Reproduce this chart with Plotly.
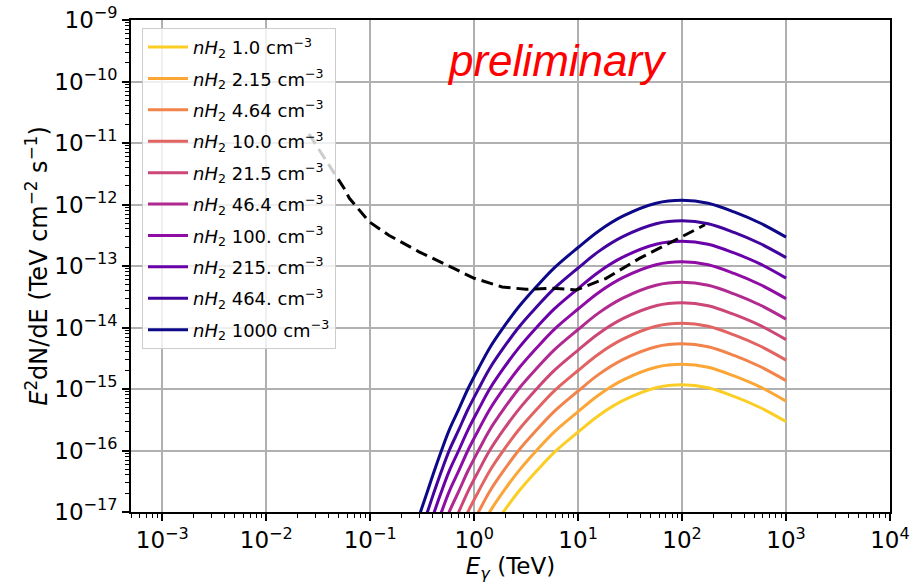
import plotly.graph_objects as go

# ---------------- data ----------------
energy_tev = [0.30, 0.355, 0.41, 0.48, 0.575, 0.71, 0.87, 1.1, 1.41, 1.95, 2.7, 4.0,
              5.9, 10.0, 15.8, 26.9, 56.2, 100.0, 178.0, 316.0, 562.0, 1000.0]

density_labels = ["1.0", "2.15", "4.64", "10.0", "21.5", "46.4", "100.", "215.", "464.", "1000"]

flux_n1 = [9.3e-21, 2.15e-20, 4.47e-20, 9.55e-20, 2.15e-19, 4.65e-19, 1.0e-18, 2.15e-18, 4.65e-18,
           1.05e-17, 2.19e-17, 4.68e-17, 9.33e-17, 2.0e-16, 3.72e-16, 6.46e-16, 1.05e-15, 1.17e-15,
           1.05e-15, 7.59e-16, 5.0e-16, 2.95e-16]
flux_n2 = [2.0e-20, 4.62e-20, 9.61e-20, 2.05e-19, 4.62e-19, 1.0e-18, 2.15e-18, 4.62e-18, 1.0e-17,
           2.26e-17, 4.71e-17, 1.01e-16, 2.01e-16, 4.3e-16, 8.0e-16, 1.39e-15, 2.26e-15, 2.52e-15,
           2.26e-15, 1.63e-15, 1.08e-15, 6.34e-16]
flux_n5 = [4.32e-20, 9.98e-20, 2.07e-19, 4.43e-19, 9.98e-19, 2.16e-18, 4.64e-18, 9.98e-18, 2.16e-17,
           4.87e-17, 1.02e-16, 2.17e-16, 4.33e-16, 9.28e-16, 1.73e-15, 3.0e-15, 4.87e-15, 5.43e-15,
           4.87e-15, 3.52e-15, 2.32e-15, 1.37e-15]
flux_n10 = [9.3e-20, 2.15e-19, 4.47e-19, 9.55e-19, 2.15e-18, 4.65e-18, 1.0e-17, 2.15e-17, 4.65e-17,
            1.05e-16, 2.19e-16, 4.68e-16, 9.33e-16, 2.0e-15, 3.72e-15, 6.46e-15, 1.05e-14, 1.17e-14,
            1.05e-14, 7.59e-15, 5.0e-15, 2.95e-15]
flux_n21 = [2.0e-19, 4.62e-19, 9.61e-19, 2.05e-18, 4.62e-18, 1.0e-17, 2.15e-17, 4.62e-17, 1.0e-16,
            2.26e-16, 4.71e-16, 1.01e-15, 2.01e-15, 4.3e-15, 8.0e-15, 1.39e-14, 2.26e-14, 2.52e-14,
            2.26e-14, 1.63e-14, 1.08e-14, 6.34e-15]
flux_n46 = [4.32e-19, 9.98e-19, 2.07e-18, 4.43e-18, 9.98e-18, 2.16e-17, 4.64e-17, 9.98e-17, 2.16e-16,
            4.87e-16, 1.02e-15, 2.17e-15, 4.33e-15, 9.28e-15, 1.73e-14, 3.0e-14, 4.87e-14, 5.43e-14,
            4.87e-14, 3.52e-14, 2.32e-14, 1.37e-14]
flux_n100 = [9.3e-19, 2.15e-18, 4.47e-18, 9.55e-18, 2.15e-17, 4.65e-17, 1.0e-16, 2.15e-16, 4.65e-16,
             1.05e-15, 2.19e-15, 4.68e-15, 9.33e-15, 2.0e-14, 3.72e-14, 6.46e-14, 1.05e-13, 1.17e-13,
             1.05e-13, 7.59e-14, 5.0e-14, 2.95e-14]
flux_n215 = [2.0e-18, 4.62e-18, 9.61e-18, 2.05e-17, 4.62e-17, 1.0e-16, 2.15e-16, 4.62e-16, 1.0e-15,
             2.26e-15, 4.71e-15, 1.01e-14, 2.01e-14, 4.3e-14, 8.0e-14, 1.39e-13, 2.26e-13, 2.52e-13,
             2.26e-13, 1.63e-13, 1.08e-13, 6.34e-14]
flux_n464 = [4.32e-18, 9.98e-18, 2.07e-17, 4.43e-17, 9.98e-17, 2.16e-16, 4.64e-16, 9.98e-16, 2.16e-15,
             4.87e-15, 1.02e-14, 2.17e-14, 4.33e-14, 9.28e-14, 1.73e-13, 3.0e-13, 4.87e-13, 5.43e-13,
             4.87e-13, 3.52e-13, 2.32e-13, 1.37e-13]
flux_n1000 = [9.3e-18, 2.15e-17, 4.47e-17, 9.55e-17, 2.15e-16, 4.65e-16, 1.0e-15, 2.15e-15, 4.65e-15,
              1.05e-14, 2.19e-14, 4.68e-14, 9.33e-14, 2.0e-13, 3.72e-13, 6.46e-13, 1.05e-12, 1.17e-12,
              1.05e-12, 7.59e-13, 5.0e-13, 2.95e-13]

sens_energy = [0.0257, 0.0562, 0.0631, 0.0977, 0.151, 0.245, 0.295, 0.537, 1.0, 1.86, 3.16,
               5.62, 9.55, 18.6, 38.9, 81.3, 166.0]
sens_flux = [1.41e-11, 1.82e-12, 1.26e-12, 5.25e-13, 3.16e-13, 2.04e-13, 1.70e-13, 1.05e-13,
             6.31e-14, 4.57e-14, 4.17e-14, 4.37e-14, 4.07e-14, 6.31e-14, 1.33e-13, 2.51e-13, 4.68e-13]

x_tick_exponents = [-3, -2, -1, 0, 1, 2, 3, 4]
y_tick_exponents = [-17, -16, -15, -14, -13, -12, -11, -10, -9]

# ---------------- styling ----------------
series = [flux_n1, flux_n2, flux_n5, flux_n10, flux_n21, flux_n46, flux_n100, flux_n215, flux_n464, flux_n1000]
colors = ["#fcce25", "#fca636", "#f2844b", "#e16462", "#cc4778",
          "#b12a90", "#8f0da4", "#6a00a8", "#41049d", "#0d0887"]

FONT = "DejaVu Sans"
MINUS = "\u2212"
TICK_SIZE = 23

def pow_label(e):
    return "10<sup>" + (MINUS + str(-e) if e < 0 else str(e)) + "</sup>"

fig = go.Figure()

for lab, ys, col in zip(density_labels, series, colors):
    fig.add_trace(go.Scatter(
        x=energy_tev, y=ys, mode="lines",
        line=dict(color=col, width=3, shape="spline", smoothing=1.0),
        name="<i>nH</i><sub>2</sub> " + lab + " cm<sup>" + MINUS + "3</sup>",
        legendgroup=lab,
    ))

fig.add_trace(go.Scatter(
    x=sens_energy, y=sens_flux, mode="lines",
    line=dict(color="black", width=3, dash="12px,6px"),
    showlegend=False,
))

def minor_vals(e0, e1):
    out = []
    for e in range(e0, e1):
        for m in range(2, 10):
            out.append(m * 10.0 ** e)
    return out

axis_common = dict(
    type="log", automargin=False, ticklabeloverflow="allow",
    showline=True, linecolor="black", linewidth=1.7, mirror=True,
    ticks="outside", ticklen=7, tickwidth=1.5, tickcolor="black",
    showgrid=True, gridcolor="#b0b0b0", gridwidth=1.5,
    zeroline=False,
    tickfont=dict(family=FONT, size=TICK_SIZE, color="black"),
)

fig.update_xaxes(
    **axis_common,
    range=[-3.301, 4],
    tickmode="array",
    tickvals=[10.0 ** e for e in x_tick_exponents],
    ticktext=[pow_label(e) for e in x_tick_exponents],
    minor=dict(tickmode="array", tickvals=minor_vals(-4, 4), ticks="outside",
               ticklen=4, tickwidth=1.2, tickcolor="black", showgrid=False),
    title=dict(text="<i>E</i><sub><i>γ</i></sub> (TeV)", font=dict(family=FONT, size=23, color="black"),
               standoff=2),
)
fig.update_yaxes(
    **axis_common,
    range=[-17, -9],
    tickmode="array",
    tickvals=[10.0 ** e for e in y_tick_exponents],
    ticktext=[pow_label(e) for e in y_tick_exponents],
    minor=dict(tickmode="array", tickvals=minor_vals(-17, -9), ticks="outside",
               ticklen=4, tickwidth=1.2, tickcolor="black", showgrid=False),
    title=dict(text="<i>E</i><sup>2</sup>dN/dE (TeV cm<sup>" + MINUS + "2</sup> s<sup>" + MINUS + "1</sup>)",
               font=dict(family=FONT, size=24, color="black"), standoff=0),
)

fig.add_annotation(
    text="<i>preliminary</i>", xref="paper", yref="paper",
    x=0.561, y=0.918, xanchor="center", yanchor="middle", showarrow=False,
    font=dict(family="Liberation Sans", size=44, color="red"),
)

fig.update_layout(
    width=923, height=584,
    margin=dict(l=131, r=33, t=20, b=72),
    paper_bgcolor="white", plot_bgcolor="white",
    showlegend=True,
    legend=dict(
        x=0.0145, y=0.984, xanchor="left", yanchor="top",
        bgcolor="rgba(255,255,255,0.8)", bordercolor="#cccccc", borderwidth=1,
        font=dict(family=FONT, size=18, color="black"),
        tracegroupgap=5,
        itemwidth=40,
    ),
)

# remove the browser's default 8px page margin so the figure fills the window
fig.write_html("out.html", config={"displayModeBar": False},
               post_script="document.body.style.margin='0px';")
